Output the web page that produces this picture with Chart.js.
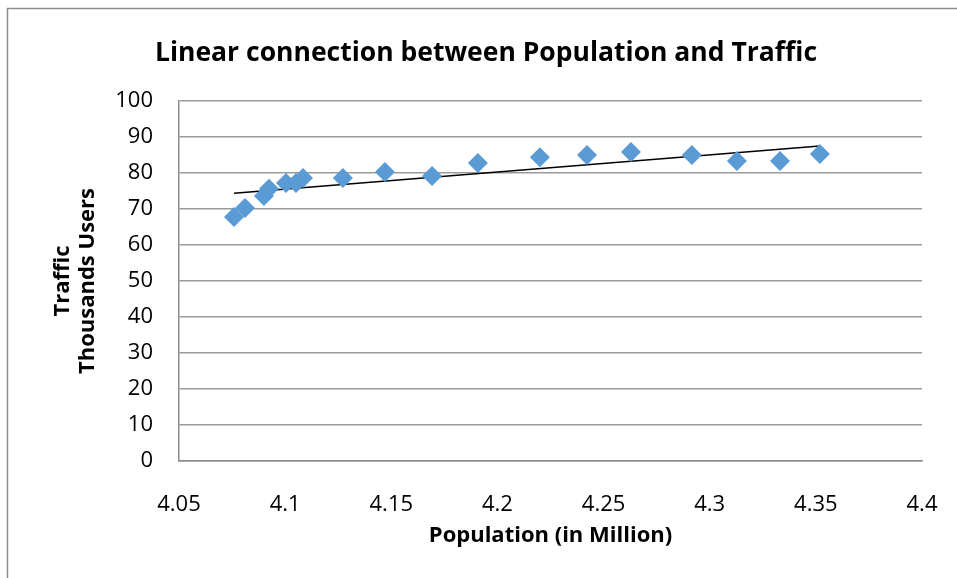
<!DOCTYPE html>
<html>
<head>
<meta charset="utf-8">
<script src="https://cdn.jsdelivr.net/npm/chart.js@4/dist/chart.umd.min.js"></script>
<style>
  html, body { margin: 0; padding: 0; background: #fff; }
  #wrap { width: 957px; height: 578px; }
</style>
</head>
<body>
<div id="wrap"><canvas id="chart" width="957" height="578"></canvas></div>
<script>
// population in million (x) and traffic in thousand users (y)
const population = [4.0759, 4.0811, 4.0900, 4.0924, 4.1004, 4.1051, 4.1084, 4.1272, 4.1470,
  4.1692, 4.1908, 4.2200, 4.2422, 4.2629, 4.2916, 4.3128, 4.3331, 4.3519];
const traffic = [67.8, 70.3, 73.6, 75.6, 77.2, 77.2, 78.6, 78.6, 80.3,
  79.2, 82.8, 84.4, 85.0, 85.8, 85.0, 83.3, 83.3, 85.3];

// trendline endpoints
const trendX = [4.0759, 4.3519];
const trendY = [74.4, 87.5];

const xTickLabels = ['4.05', '4.1', '4.15', '4.2', '4.25', '4.3', '4.35', '4.4'];
const yTickLabels = ['0', '10', '20', '30', '40', '50', '60', '70', '80', '90', '100'];

const points = population.map((p, i) => ({ x: p, y: traffic[i] }));
const trend = trendX.map((p, i) => ({ x: p, y: trendY[i] }));

// the outer frame only shows on the left and top
const framePlugin = {
    id: 'frame',
    beforeDraw(chart) {
        const ctx = chart.ctx;
        ctx.save();
        ctx.strokeStyle = '#8c8c8c';
        ctx.lineWidth = 1.5;
        ctx.beginPath();
        ctx.moveTo(7.5, 578);
        ctx.lineTo(7.5, 8.5);
        ctx.lineTo(957, 8.5);
        ctx.stroke();
        ctx.restore();
    }
};

const ctx = document.getElementById('chart').getContext('2d');
new Chart(ctx, {
    type: 'scatter',
    data: {
        datasets: [
            {
                label: 'Traffic',
                data: points,
                pointStyle: 'rectRot',
                pointRadius: 10,
                pointHoverRadius: 10,
                backgroundColor: '#5b9bd5',
                borderWidth: 0
            },
            {
                label: 'Linear',
                type: 'line',
                data: trend,
                showLine: true,
                pointRadius: 0,
                borderColor: '#000',
                borderWidth: 1.5,
                fill: false
            }
        ]
    },
    options: {
        responsive: false,
        animation: false,
        layout: { padding: { left: 50, right: 35, top: 0, bottom: 0 } },
        plugins: {
            legend: { display: false },
            tooltip: { enabled: false },
            title: {
                display: true,
                text: 'Linear connection between Population and Traffic',
                color: '#000',
                font: { family: 'Open Sans', size: 26.5, weight: 'bold', lineHeight: 1.2 },
                padding: { top: 37.5, bottom: 31.7 }
            }
        },
        scales: {
            x: {
                type: 'linear',
                min: 4.05,
                max: 4.4,
                afterFit(scale) {
                    scale.height = 117;
                    scale.paddingLeft = 0;
                    scale.paddingRight = 0;
                },
                afterBuildTicks(scale) {
                    scale.ticks = xTickLabels.map(t => ({ value: parseFloat(t) }));
                },
                ticks: {
                    color: '#000',
                    padding: 23,
                    font: { family: 'Open Sans', size: 22 },
                    callback: (v, i) => xTickLabels[i]
                },
                grid: { display: false },
                border: { display: true, color: '#8c8c8c', width: 1.5 },
                title: {
                    display: true,
                    text: 'Population (in Million)',
                    color: '#000',
                    font: { family: 'Open Sans', size: 22, weight: 'bold', lineHeight: 1.2 },
                    padding: { top: 0, bottom: 28.8 }
                }
            },
            y: {
                min: 0,
                max: 100,
                afterFit(scale) {
                    scale.width = 129;
                    scale.paddingTop = 0;
                    scale.paddingBottom = 0;
                },
                afterBuildTicks(scale) {
                    scale.ticks = yTickLabels.map(t => ({ value: parseFloat(t) }));
                },
                ticks: {
                    color: '#000',
                    padding: 26,
                    font: { family: 'Open Sans', size: 22 },
                    callback: (v, i) => yTickLabels[i]
                },
                grid: { color: '#9a9a9a', lineWidth: 1.5, drawTicks: false },
                border: { display: true, color: '#8c8c8c', width: 1.5 },
                title: {
                    display: true,
                    text: ['Traffic', 'Thousands Users'],
                    color: '#000',
                    font: { family: 'Open Sans', size: 22, weight: 'bold', lineHeight: 1.15 },
                    padding: { top: 0, bottom: 0 }
                }
            }
        }
    },
    plugins: [framePlugin]
});
</script>
</body>
</html>
